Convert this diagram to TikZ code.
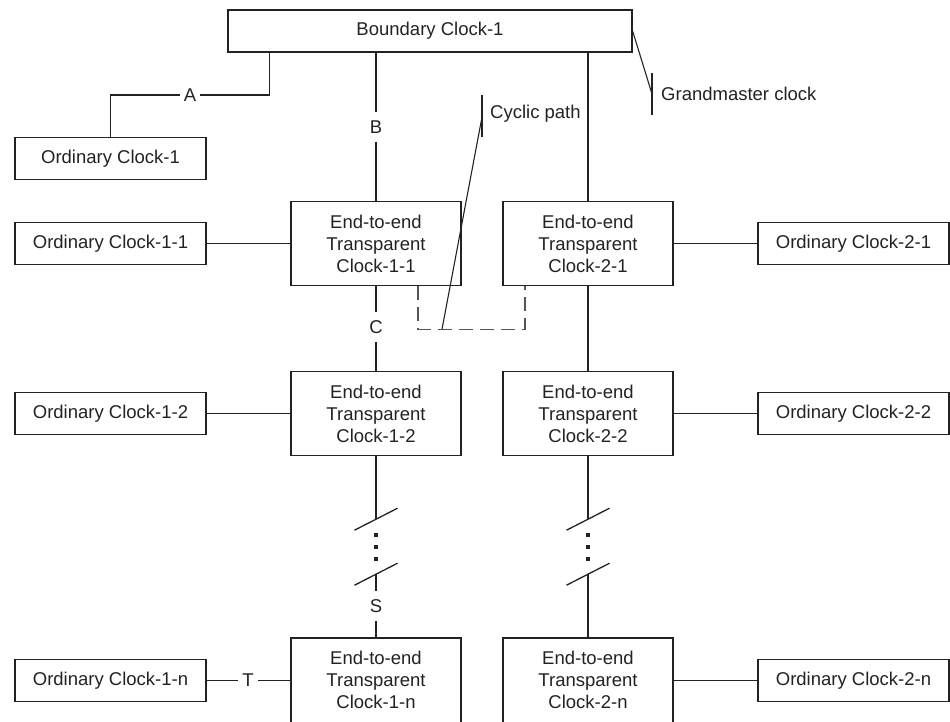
\documentclass[tikz,border=0pt]{standalone}
\usepackage{fontspec}
\setmainfont{Liberation Sans}
\usetikzlibrary{calc}
\definecolor{ink}{HTML}{222222}
\definecolor{dashgray}{HTML}{555555}
\begin{document}
\begin{tikzpicture}[x=1pt,y=-1pt,
  every node/.style={font=\fontsize{18.5}{22}\selectfont, text=ink},
  boxbase/.style={draw=ink, line width=1.4pt, rectangle, align=center, inner sep=0pt},
  bbox/.style={boxbase, minimum width=404pt, minimum height=42pt},
  obox/.style={boxbase, minimum width=191pt, minimum height=42pt},
  ebox/.style={boxbase, minimum width=170pt, minimum height=84pt},
  eboxlow/.style={boxbase, minimum width=170pt, minimum height=92pt},
  lbl/.style={inner xsep=4pt, inner ysep=8pt},
  conn/.style={draw=ink, line width=1.3pt},
  thinconn/.style={draw=ink, line width=1.1pt},
  dashline/.style={draw=dashgray, line width=1.3pt, dash pattern=on 14pt off 7pt}
]
\useasboundingbox (0,0) rectangle (950,721);

% boxes
\node[bbox] (bc) at (430,31) {Boundary Clock-1};
\node[obox] (oc1) at (110.5,158.5) {Ordinary Clock-1};
\node[obox] (oc11) at (110.5,243.5) {Ordinary Clock-1-1};
\node[ebox] (e11) at (376,243.5) {End-to-end\\Transparent\\Clock-1-1};
\node[ebox] (e21) at (588,243.5) {End-to-end\\Transparent\\Clock-2-1};
\node[obox] (oc21) at (853.5,243.5) {Ordinary Clock-2-1};
\node[obox] (oc12) at (110.5,413.5) {Ordinary Clock-1-2};
\node[ebox] (e12) at (376,413.5) {End-to-end\\Transparent\\Clock-1-2};
\node[ebox] (e22) at (588,413.5) {End-to-end\\Transparent\\Clock-2-2};
\node[obox] (oc22) at (853.5,413.5) {Ordinary Clock-2-2};
\node[obox] (oc1n) at (110.5,680.5) {Ordinary Clock-1-n};
\node[eboxlow] (e1n) at (376,684) {End-to-end\\Transparent\\Clock-1-n\\[-14pt]};
\node[eboxlow] (e2n) at (588,684) {End-to-end\\Transparent\\Clock-2-n\\[-14pt]};
\node[obox] (oc2n) at (853.5,680.5) {Ordinary Clock-2-n};

% labels
\node[lbl] (lA) at (190,95) {A};
\node[lbl] (lB) at (376,127) {B};
\node[lbl] (lC) at (376,327) {C};
\node[lbl] (lS) at (376,606) {S};
\node[lbl] (lT) at (248,680.5) {T};

% connectors
\draw[conn] (oc1.north) |- (lA.west);
\draw[conn] (lA.east) -| ($(bc.south west)+(42,0)$);
\draw[conn] (e11.north |- bc.south) -- (lB.north);
\draw[conn] (lB.south) -- (e11.north);
\draw[conn] (e21.north |- bc.south) -- (e21.north);
\draw[conn] (oc11.east) -- (e11.west);
\draw[conn] (e21.east) -- (oc21.west);
\draw[conn] (e11.south) -- (lC.north);
\draw[conn] (lC.south) -- (e12.north);
\draw[conn] (e21.south) -- (e22.north);
\draw[conn] (oc12.east) -- (e12.west);
\draw[conn] (e22.east) -- (oc22.west);
\draw[conn] (oc1n.east) -- (lT.west);
\draw[conn] (lT.east) -- (e1n.west |- lT.east);
\draw[conn] (e2n.east |- oc2n.west) -- (oc2n.west);

% breaks, left column
\coordinate (s1a) at ($(e12.south)+(0,63)$);
\coordinate (s1b) at ($(s1a)+(0,55)$);
\draw[conn] (e12.south) -- (s1a);
\draw[conn] ($(s1a)+(-21.5,11)$) -- ($(s1a)+(21.5,-11)$);
\draw[conn] ($(s1b)+(-21.5,11)$) -- ($(s1b)+(21.5,-11)$);
\foreach \dy in {16,28,40} \fill[ink] ($(s1a)+(-2,\dy-2)$) rectangle ++(4,4);
\draw[conn] (s1b) -- (lS.north);
\draw[conn] (lS.south) -- (e1n.north);

% breaks, right column
\coordinate (s2a) at ($(e22.south)+(0,63)$);
\coordinate (s2b) at ($(s2a)+(0,55)$);
\draw[conn] (e22.south) -- (s2a);
\draw[conn] ($(s2a)+(-21.5,11)$) -- ($(s2a)+(21.5,-11)$);
\draw[conn] ($(s2b)+(-21.5,11)$) -- ($(s2b)+(21.5,-11)$);
\foreach \dy in {16,28,40} \fill[ink] ($(s2a)+(-2,\dy-2)$) rectangle ++(4,4);
\draw[conn] (s2b) -- (e2n.north);

% cyclic path (dashed)
\coordinate (d1) at ($(e11.south)+(42,0)$);
\coordinate (d2) at ($(e21.south)+(-63,0)$);
\draw[dashline] (d1) -- ++(0,43) -| (d2);

% cyclic path callout
\coordinate (cbt) at (482,95);
\coordinate (cbb) at (482,137);
\coordinate (ct) at (482,117);
\coordinate (cd) at ($(d1)+(24,43)$);
\draw[thinconn] (cbt) -- (cbb);
\draw[thinconn] (ct) -- (cd);
\node[anchor=west, inner sep=0pt] (cyc) at (490,114) {Cyclic path};

% grandmaster callout
\coordinate (gs) at ($(bc.north east)+(0,22)$);
\coordinate (gb) at (652,94);
\coordinate (gbt) at (652,73);
\coordinate (gbb) at (652,115);
\draw[thinconn] (gs) -- (gb);
\draw[thinconn] (gbt) -- (gbb);
\node[anchor=west, inner sep=0pt] (gm) at (661,94) {Grandmaster clock};
\end{tikzpicture}
\end{document}
